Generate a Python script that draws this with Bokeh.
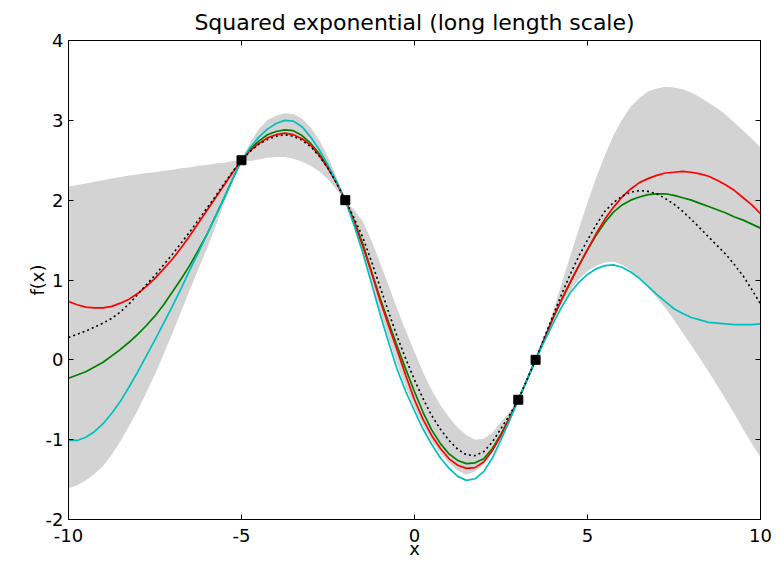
from bokeh.plotting import figure
from bokeh.models import LinearAxis, FixedTicker, Range1d, CustomJSTickFormatter
from bokeh.embed import file_html
from bokeh.resources import INLINE

# ---- data ----
x_vals = [-10, -9.75, -9.5, -9.25, -9, -8.75, -8.5, -8.25, -8, -7.75, -7.5, -7.25, -7, -6.75,
          -6.5, -6.25, -6, -5.75, -5.5, -5.25, -5,
          -4.75, -4.5, -4.25, -4, -3.75, -3.5, -3.25, -3, -2.75, -2.5, -2.25, -2,
          -1.75, -1.5, -1.25, -1, -0.75, -0.5, -0.25, 0, 0.25, 0.5, 0.75, 1, 1.25, 1.5,
          1.75, 2, 2.25, 2.5, 2.75, 3, 3.25, 3.5,
          3.75, 4, 4.25, 4.5, 4.75, 5, 5.25, 5.5, 5.75, 6, 6.25, 6.5, 6.75, 7, 7.25, 7.5,
          7.75, 8, 8.25, 8.5, 8.75, 9, 9.25, 9.5, 9.75, 10]

mean_vals = [0.28, 0.32, 0.36, 0.41, 0.46, 0.52, 0.60, 0.70, 0.82, 0.94, 1.06, 1.19, 1.32, 1.46,
             1.60, 1.75, 1.90, 2.05, 2.21, 2.36, 2.50,
             2.61, 2.70, 2.76, 2.80, 2.82, 2.80, 2.75, 2.67, 2.55, 2.40, 2.21, 2.00,
             1.78, 1.54, 1.24, 0.92, 0.60, 0.29, 0.01, -0.25, -0.49, -0.70, -0.87, -1.01,
             -1.12, -1.19, -1.20, -1.15, -1.03, -0.86, -0.69, -0.50, -0.25, 0.00,
             0.28, 0.55, 0.82, 1.07, 1.30, 1.50, 1.69, 1.86, 1.97, 2.05, 2.10, 2.12, 2.11,
             2.08, 2.02, 1.95, 1.86, 1.76, 1.65, 1.54, 1.43, 1.32, 1.19, 1.05, 0.88, 0.70]

upper_vals = [2.17, 2.19, 2.21, 2.23, 2.25, 2.27, 2.29, 2.31, 2.32, 2.34, 2.35, 2.37, 2.38, 2.40,
              2.41, 2.43, 2.44, 2.46, 2.47, 2.49, 2.50,
              2.72, 2.89, 3.00, 3.06, 3.09, 3.08, 3.02, 2.91, 2.75, 2.54, 2.29, 2.00,
              1.88, 1.74, 1.50, 1.22, 0.93, 0.64, 0.36, 0.10, -0.16, -0.38, -0.57, -0.72,
              -0.85, -0.94, -1.00, -0.99, -0.91, -0.78, -0.65, -0.50, -0.24, 0.00,
              0.28, 0.60, 0.95, 1.30, 1.64, 1.97, 2.28, 2.56, 2.81, 3.01, 3.17, 3.28, 3.36,
              3.40, 3.42, 3.41, 3.39, 3.35, 3.29, 3.22, 3.15, 3.07, 2.97, 2.87, 2.77, 2.66]

lower_vals = [-1.61, -1.57, -1.51, -1.43, -1.33, -1.19, -1.02, -0.83, -0.63, -0.41, -0.18, 0.07,
              0.33, 0.60, 0.87, 1.13, 1.39, 1.67, 1.96, 2.24, 2.50,
              2.49, 2.51, 2.53, 2.54, 2.54, 2.52, 2.48, 2.43, 2.36, 2.26, 2.13, 2.00,
              1.68, 1.34, 0.98, 0.62, 0.27, -0.06, -0.34, -0.60, -0.82, -1.02, -1.17, -1.30,
              -1.39, -1.44, -1.40, -1.31, -1.15, -0.94, -0.73, -0.50, -0.26, 0.00,
              0.25, 0.49, 0.70, 0.87, 1.01, 1.11, 1.18, 1.22, 1.23, 1.19, 1.12, 1.02, 0.91,
              0.78, 0.65, 0.50, 0.34, 0.18, 0.02, -0.15, -0.32, -0.50, -0.68, -0.87, -1.05,
              -1.22]

red_vals = [0.73, 0.69, 0.66, 0.65, 0.65, 0.67, 0.71, 0.76, 0.83, 0.92, 1.02, 1.14, 1.26, 1.40,
            1.55, 1.71, 1.87, 2.03, 2.19, 2.35, 2.50,
            2.62, 2.71, 2.78, 2.82, 2.84, 2.82, 2.77, 2.69, 2.56, 2.40, 2.21, 2.00,
            1.73, 1.43, 1.10, 0.75, 0.43, 0.12, -0.20, -0.50, -0.75, -0.95, -1.11, -1.24,
            -1.32, -1.36, -1.35, -1.28, -1.14, -0.95, -0.73, -0.50, -0.25, 0.00,
            0.26, 0.52, 0.75, 0.97, 1.18, 1.38, 1.58, 1.76, 1.91, 2.04, 2.14, 2.22, 2.27,
            2.31, 2.34, 2.35, 2.36, 2.35, 2.33, 2.30, 2.25, 2.19, 2.12, 2.03, 1.94, 1.83]

green_vals = [-0.23, -0.19, -0.15, -0.09, -0.03, 0.05, 0.13, 0.22, 0.32, 0.43, 0.55, 0.69, 0.85,
              1.01, 1.18, 1.37, 1.57, 1.80, 2.03, 2.27, 2.50,
              2.64, 2.74, 2.82, 2.86, 2.88, 2.87, 2.81, 2.71, 2.58, 2.42, 2.22, 2.00,
              1.75, 1.46, 1.12, 0.78, 0.47, 0.17, -0.12, -0.40, -0.66, -0.88, -1.05, -1.18,
              -1.26, -1.30, -1.29, -1.24, -1.11, -0.93, -0.72, -0.50, -0.25, 0.00,
              0.26, 0.52, 0.75, 0.97, 1.18, 1.38, 1.56, 1.72, 1.85, 1.94, 2.00, 2.04, 2.07,
              2.08, 2.08, 2.06, 2.03, 2.00, 1.96, 1.92, 1.88, 1.84, 1.79, 1.75, 1.70, 1.65]

cyan_vals = [-1.01, -1.01, -0.97, -0.90, -0.80, -0.67, -0.52, -0.34, -0.15, 0.05, 0.25, 0.46,
             0.67, 0.89, 1.12, 1.34, 1.57, 1.80, 2.03, 2.27, 2.50,
             2.66, 2.79, 2.89, 2.96, 3.00, 2.99, 2.92, 2.79, 2.63, 2.44, 2.23, 2.00,
             1.69, 1.35, 0.97, 0.58, 0.22, -0.12, -0.40, -0.64, -0.87, -1.06, -1.23, -1.36,
             -1.46, -1.51, -1.49, -1.40, -1.23, -1.00, -0.76, -0.50, -0.25, 0.00,
             0.23, 0.45, 0.66, 0.84, 0.97, 1.07, 1.14, 1.18, 1.19, 1.16, 1.10, 1.02, 0.92,
             0.82, 0.73, 0.64, 0.58, 0.53, 0.50, 0.47, 0.46, 0.45, 0.44, 0.44, 0.44, 0.45]

obs_x = [-5, -2, 3, 3.5]
obs_y = [2.5, 2.0, -0.5, 0.0]

x_ticks = [-10, -5, 0, 5, 10]
x_tick_labels = ["-10", "-5", "0", "5", "10"]
y_ticks = [-2, -1, 0, 1, 2, 3, 4]
y_tick_labels = ["-2", "-1", "0", "1", "2", "3", "4"]

for arr in (mean_vals, upper_vals, lower_vals, red_vals, green_vals, cyan_vals):
    assert len(arr) == len(x_vals), len(arr)

FONT = "DejaVu Sans"

p = figure(width=777, height=561, x_range=Range1d(-10, 10), y_range=Range1d(-2, 4),
           output_backend="svg", toolbar_location=None,
           min_border_left=68, min_border_right=17, min_border_top=40, min_border_bottom=40,
           title="Squared exponential (long length scale)")
p.title.text_font = FONT
p.title.text_font_size = "22px"
p.title.text_font_style = "normal"
p.title.align = "center"
p.title.text_color = "black"
p.title.standoff = 12

p.xgrid.visible = False
p.ygrid.visible = False
p.outline_line_color = "black"
p.outline_line_width = 1
p.background_fill_color = "white"
p.border_fill_color = "white"

for ax, ticks, labels in ((p.xaxis[0], x_ticks, x_tick_labels),
                          (p.yaxis[0], y_ticks, y_tick_labels)):
    ax.ticker = FixedTicker(ticks=ticks)
    ax.major_label_overrides = dict(zip(ticks, labels))
    ax.minor_tick_line_color = None
    ax.major_tick_in = 5
    ax.major_tick_out = 0
    ax.axis_line_color = "black"
    ax.major_tick_line_color = "black"
    ax.major_label_text_font = FONT
    ax.major_label_text_font_size = "18px"
    ax.major_label_text_color = "black"
    ax.axis_label_text_font = FONT
    ax.axis_label_text_font_size = "18px"
    ax.axis_label_text_font_style = "normal"
    ax.axis_label_text_color = "black"

p.xaxis.axis_label = "x"
p.xaxis.major_label_standoff = 9
p.xaxis.axis_label_standoff = -7
p.yaxis.axis_label = "f(x)"
p.yaxis.major_label_standoff = 5
p.yaxis.axis_label_standoff = -5

blank = CustomJSTickFormatter(code="return ''")
top_ax = LinearAxis(ticker=FixedTicker(ticks=x_ticks), formatter=blank,
                    major_label_text_font_size="1px", major_label_standoff=0,
                    major_tick_in=5, major_tick_out=0,
                    minor_tick_line_color=None, axis_line_color="black")
right_ax = LinearAxis(ticker=FixedTicker(ticks=y_ticks), formatter=blank,
                      major_label_text_font_size="1px", major_label_standoff=0,
                      major_tick_in=5, major_tick_out=0,
                      minor_tick_line_color=None, axis_line_color="black")
p.add_layout(top_ax, "above")
p.add_layout(right_ax, "right")

p.varea(x=x_vals, y1=lower_vals, y2=upper_vals, fill_color="#d3d3d3", fill_alpha=1.0)
p.line(x_vals, green_vals, line_color="#008000", line_width=1.7)
p.line(x_vals, red_vals, line_color="#ff0000", line_width=1.7)
p.line(x_vals, cyan_vals, line_color="#00bfbf", line_width=1.7)
p.line(x_vals, mean_vals, line_color="black", line_width=1.6, line_dash="2 3")
p.scatter(obs_x, obs_y, marker="square", size=9, fill_color="black", line_color="black")

open("out.html", "w").write(file_html(p, INLINE))
